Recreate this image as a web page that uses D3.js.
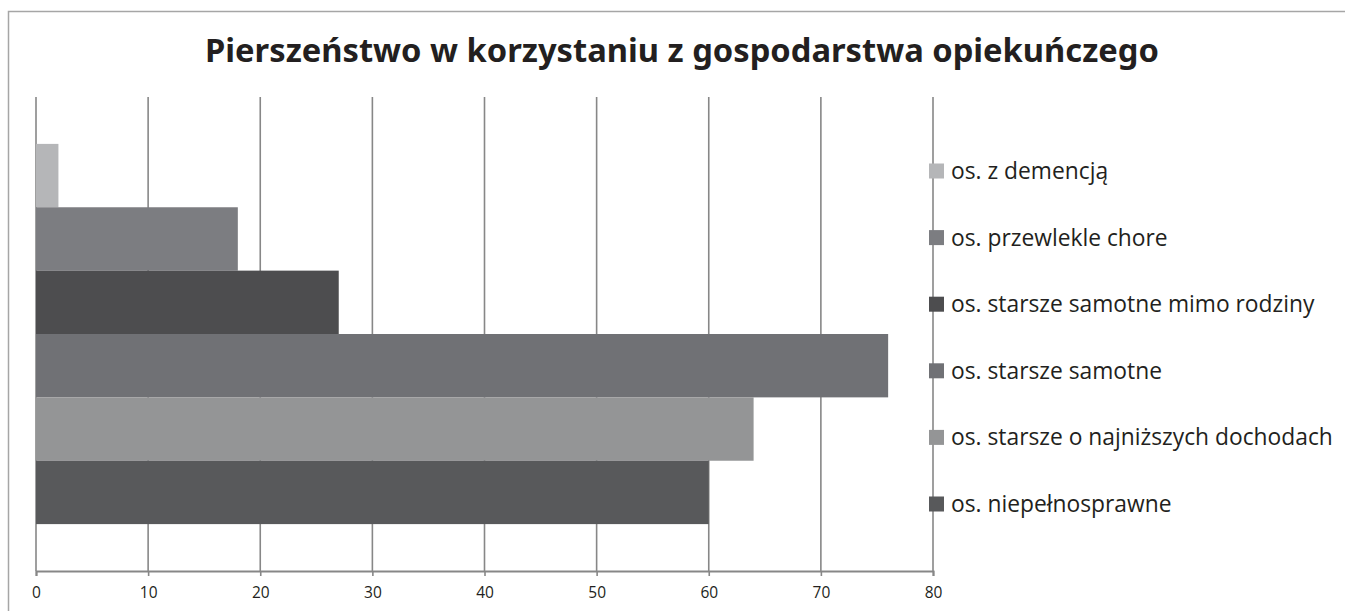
<!DOCTYPE html>
<html>
<head>
<meta charset="utf-8">
<script src="https://cdn.jsdelivr.net/npm/d3@7"></script>
<style>
  body { margin: 0; background: #fff; }
  svg { display: block; }
</style>
</head>
<body>
<script>
(function(){

    // data
    const series = [
        "os. z demencją",
        "os. przewlekle chore",
        "os. starsze samotne mimo rodziny",
        "os. starsze samotne",
        "os. starsze o najniższych dochodach",
        "os. niepełnosprawne"
    ];
    const values = [2, 18, 27, 76, 64, 60];
    const colors = ["#b5b6b8", "#7c7d81", "#4d4d4f", "#707175", "#949596", "#58595b"];
    const xTicks = [0, 10, 20, 30, 40, 50, 60, 70, 80];

    const svgWidth = 1345,
        svgHeight = 611;

    // plot area
    const plot = { left: 36, right: 933, top: 97, bottom: 571 };

    const svg = d3.select("body")
        .append("svg")
        .attr("width", svgWidth)
        .attr("height", svgHeight);

    // outer chart border (only top and left edges fall inside the window)
    svg.append("rect")
        .attr("x", 8.5)
        .attr("y", 11.5)
        .attr("width", 1400)
        .attr("height", 700)
        .attr("fill", "none")
        .attr("stroke", "#a6a6a6")
        .attr("stroke-width", 1.5);

    svg.append("text")
        .attr("x", 682)
        .attr("y", 62)
        .attr("text-anchor", "middle")
        .attr("font-family", "Noto Sans")
        .attr("font-weight", "bold")
        .attr("font-size", 32.7)
        .attr("fill", "#231f20")
        .text("Pierszeństwo w korzystaniu z gospodarstwa opiekuńczego");

    const x = d3.scaleLinear()
        .domain([0, 80])
        .range([plot.left, plot.right]);

    const y = d3.scaleBand()
        .domain(series)
        .range([plot.top, plot.bottom])
        .paddingInner(0)
        .paddingOuter(0.74);

    // vertical gridlines
    svg.append("g")
        .selectAll("line")
        .data(xTicks)
        .enter().append("line")
        .attr("x1", d => x(d))
        .attr("x2", d => x(d))
        .attr("y1", plot.top)
        .attr("y2", plot.bottom)
        .attr("stroke", "#878787")
        .attr("stroke-width", 1.6);

    // bars
    svg.append("g")
        .selectAll("rect")
        .data(series)
        .enter().append("rect")
        .attr("x", x(0))
        .attr("y", d => y(d))
        .attr("width", (d, i) => x(values[i]) - x(0))
        .attr("height", y.bandwidth())
        .attr("fill", (d, i) => colors[i]);

    // bottom axis
    const axis = svg.append("g")
        .attr("transform", `translate(0, ${plot.bottom})`)
        .call(d3.axisBottom(x).tickValues(xTicks).tickSize(5).tickPadding(11));
    axis.select(".domain")
        .attr("stroke", "#878787")
        .attr("stroke-width", 2);
    axis.selectAll(".tick line")
        .attr("stroke", "#878787")
        .attr("stroke-width", 1.6);
    axis.selectAll(".tick text")
        .attr("font-family", "Open Sans")
        .attr("font-size", 15.5)
        .attr("fill", "#231f20");

    // legend
    const ly = d3.scalePoint()
        .domain(series)
        .range([171, 504]);

    const legend = svg.append("g")
        .selectAll("g")
        .data(series)
        .enter().append("g")
        .attr("transform", d => `translate(929, ${ly(d)})`);

    legend.append("rect")
        .attr("x", 0)
        .attr("y", -7.5)
        .attr("width", 15)
        .attr("height", 15)
        .attr("fill", (d, i) => colors[i]);

    legend.append("text")
        .attr("x", 22)
        .attr("dy", "0.35em")
        .attr("font-family", "Open Sans")
        .attr("font-size", 22.8)
        .attr("fill", "#231f20")
        .text(d => d);

})();
</script>
</body>
</html>
